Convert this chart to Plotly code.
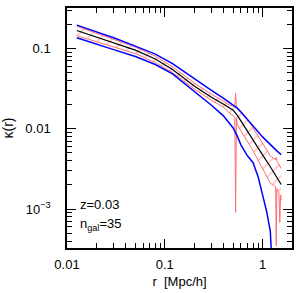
import plotly.graph_objects as go

# ---- data ----
r_mean = [0.0126, 0.02, 0.03, 0.05, 0.08, 0.12, 0.2, 0.3, 0.4, 0.5, 0.55, 0.6, 0.7, 0.8, 1.0, 1.2, 1.4, 1.55]
k_mean = [0.1667, 0.1375, 0.1176, 0.0950, 0.0736, 0.0546, 0.0340, 0.0246, 0.0202, 0.0170, 0.01476, 0.01245,
          0.00937, 0.00725, 0.00473, 0.00336, 0.00253, 0.00202]

r_up = [0.0126, 0.02, 0.03, 0.05, 0.08, 0.12, 0.2, 0.3, 0.4, 0.5, 0.55, 0.6, 0.7, 0.8, 1.0, 1.2, 1.4, 1.55]
k_up = [0.1944, 0.1607, 0.1355, 0.1065, 0.0848, 0.0647, 0.0418, 0.0300, 0.0239, 0.0196, 0.0180, 0.0161,
        0.01317, 0.0108, 0.0079, 0.00629, 0.0053, 0.00473]

r_lo = [0.0126, 0.02, 0.03, 0.05, 0.08, 0.12, 0.2, 0.3, 0.4, 0.5, 0.55, 0.6, 0.7, 0.8, 0.9, 1.0, 1.1, 1.2, 1.25]
k_lo = [0.1355, 0.1143, 0.0964, 0.0790, 0.0629, 0.0480, 0.0295, 0.0196, 0.01435, 0.0102, 0.00813, 0.00629,
        0.0046, 0.00377, 0.00253, 0.00156, 0.000937, 0.00053, 0.0002]

r_band = [0.0126, 0.02, 0.03, 0.05, 0.08, 0.12, 0.2, 0.3, 0.4, 0.46, 0.52, 0.53, 0.54, 0.55, 0.6, 0.7, 0.8,
          1.0, 1.2, 1.36, 1.38, 1.40, 1.42, 1.47, 1.5, 1.53, 1.55]
k_band_hi = [0.188, 0.154, 0.130, 0.1035, 0.080, 0.059, 0.0370, 0.0268, 0.0220, 0.0196, 0.0190, 0.0276, 0.0188,
             0.0185, 0.0165, 0.0132, 0.0102, 0.0065, 0.0046, 0.0041, 0.0044, 0.0040, 0.0038, 0.0036, 0.0034,
             0.0033, 0.0032]
k_band_lo = [0.1435, 0.121, 0.105, 0.086, 0.0666, 0.050, 0.0312, 0.0226, 0.0185, 0.0156, 0.0140, 0.00091,
             0.0135, 0.0114, 0.0094, 0.0070, 0.0053, 0.0032, 0.0021, 0.0019, 0.00035, 0.0018, 0.0017, 0.0016,
             0.00068, 0.0015, 0.0013]

x_ticks = [0.01, 0.1, 1]
x_labels = ["0.01", "0.1", "1"]
y_ticks = [0.001, 0.01, 0.1]
y_labels = ["10<sup>\u22123</sup>", "0.01", "0.1"]

RED = "rgb(255,110,110)"
FONT = "Liberation Sans, Arial, sans-serif"

fig = go.Figure()
fig.add_trace(go.Scatter(x=r_band, y=k_band_lo, mode="lines",
                         line=dict(color=RED, width=1), showlegend=False))
fig.add_trace(go.Scatter(x=r_band, y=k_band_hi, mode="lines", fill="tonexty",
                         fillcolor="rgba(0,0,0,0)",
                         fillpattern=dict(shape="/", fgcolor=RED, bgcolor="rgba(0,0,0,0)", size=9, solidity=0.15),
                         line=dict(color=RED, width=1), showlegend=False))
fig.add_trace(go.Scatter(x=r_mean, y=k_mean, mode="lines",
                         line=dict(color="black", width=1.2), showlegend=False))
fig.add_trace(go.Scatter(x=r_up, y=k_up, mode="lines",
                         line=dict(color="blue", width=1.5), showlegend=False))
fig.add_trace(go.Scatter(x=r_lo, y=k_lo, mode="lines",
                         line=dict(color="blue", width=1.5), showlegend=False))

axis_common = dict(type="log", showgrid=False, zeroline=False, showline=True, linecolor="black", linewidth=1.5,
                   mirror="allticks", ticks="inside", ticklen=9, tickwidth=1, tickcolor="black",
                   minor=dict(ticks="inside", ticklen=5, tickwidth=1, tickcolor="black", dtick="D1"),
                   tickfont=dict(family=FONT, size=13, color="black"))

fig.update_xaxes(**axis_common, range=[-2, 0.301], tickvals=x_ticks, ticktext=x_labels,
                 title=dict(text="r  [Mpc/h]", font=dict(family=FONT, size=13, color="black"), standoff=6),
                 ticklabelstandoff=4)
fig.update_yaxes(**axis_common, range=[-3.485, -0.498], tickvals=y_ticks, ticktext=y_labels,
                 title=dict(text="\u03ba(r)", font=dict(family=FONT, size=14, color="black"), standoff=10),
                 ticklabelstandoff=12)

fig.add_annotation(x=0.05, y=0.18, xref="paper", yref="paper", xanchor="left", yanchor="middle",
                   text="z=0.03", showarrow=False, font=dict(family=FONT, size=13, color="black"))
fig.add_annotation(x=0.05, y=0.10, xref="paper", yref="paper", xanchor="left", yanchor="middle",
                   text="n<sub>gal</sub>=35", showarrow=False, font=dict(family=FONT, size=13, color="black"))

fig.update_layout(width=300, height=293, margin=dict(l=66, r=6, t=6, b=45),
                  paper_bgcolor="white", plot_bgcolor="white")

fig.write_html("out.html", config={"displayModeBar": False},
               post_script="document.body.style.margin='0';document.body.style.overflow='hidden';")
